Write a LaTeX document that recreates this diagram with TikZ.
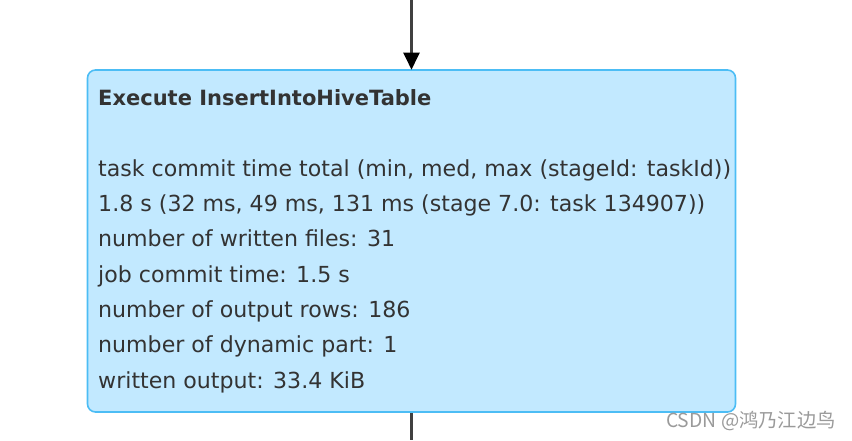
\documentclass[tikz,border=0pt]{standalone}
\usepackage{fontspec}
\setmainfont{DejaVu Sans}
\newfontfamily\cjk{Noto Sans CJK SC}
\usetikzlibrary{arrows.meta}
\definecolor{boxfill}{HTML}{C2E9FF}
\definecolor{boxline}{HTML}{4CBDF5}
\definecolor{txt}{HTML}{333333}
\definecolor{edgecol}{HTML}{404040}
\definecolor{wm}{HTML}{9A9A9A}
\tikzset{
  x=1pt, y=-1pt,
  opbox/.style={draw=boxline, fill=boxfill, line width=1.6pt, rounded corners=8pt,
    minimum width=648pt, minimum height=342pt, inner sep=0pt},
  edge/.style={draw=edgecol, line width=2.2pt},
  line/.style={anchor=base west, inner sep=0pt, text=txt, font=\fontsize{22.1}{26}\selectfont},
  title/.style={anchor=base west, inner sep=0pt, text=txt, font=\fontsize{21}{25}\selectfont\bfseries},
}
\begin{document}
\begin{tikzpicture}
\useasboundingbox (0,0) rectangle (852,440);
\node[opbox] (box) at (411.5,241) {};
\coordinate (top) at (411.5,0);
\coordinate (bottom) at (411.5,440);
\draw[edge, -{Triangle[length=17pt,width=16pt,color=black]}, shorten >=-0.5pt] (top) -- (box.north);
\draw[edge] (box.south) -- (bottom);
\node[title] (t0) at (98,105) {Execute InsertIntoHiveTable};
\node[line] (l1) at (98,176) {task commit time total (min, med, max (stageId: taskId))};
\node[line] (l2) at (98,211.3) {1.8 s (32 ms, 49 ms, 131 ms (stage 7.0: task 134907))};
\node[line] (l3) at (98,246.6) {number of written files: 31};
\node[line] (l4) at (98,282) {job commit time: 1.5 s};
\node[line] (l5) at (98,317.3) {number of output rows: 186};
\node[line] (l6) at (98,352.6) {number of dynamic part: 1};
\node[line] (l7) at (98,388) {written output: 33.4 KiB};
\node[anchor=base east, inner sep=0pt, text=wm, font=\cjk\fontsize{19.3}{22}\selectfont] (wmk) at (836,427) {CSDN @鸿乃江边鸟};
\end{tikzpicture}
\end{document}
